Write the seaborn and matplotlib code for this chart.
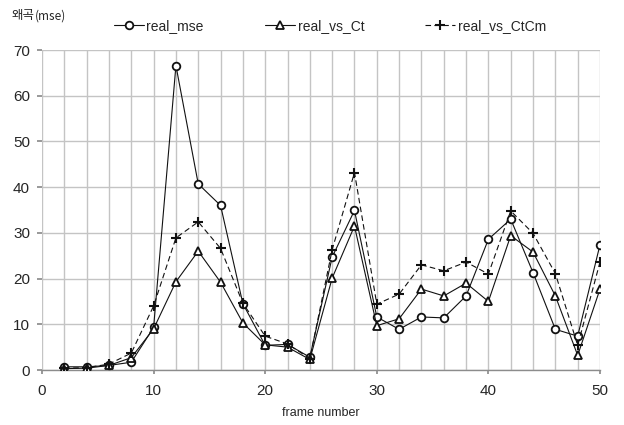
import matplotlib
matplotlib.use("Agg")
import matplotlib.pyplot as plt
import seaborn as sns
import pandas as pd

frames = list(range(2, 51, 2))
real_mse = [0.7, 0.7, 1.0, 1.7, 9.3, 66.6, 40.7, 36.0, 14.5, 5.4, 5.6, 2.8, 24.7, 34.9,
            11.6, 8.9, 11.6, 11.4, 16.2, 28.6, 33.0, 21.3, 8.9, 7.4, 27.4]
real_vs_Ct = [0.3, 0.4, 1.0, 2.7, 9.0, 19.3, 26.0, 19.2, 10.3, 5.5, 5.0, 2.3, 20.1, 31.5,
              9.7, 11.2, 17.7, 16.2, 19.0, 15.0, 29.4, 25.8, 16.2, 3.2, 17.7]
real_vs_CtCm = [0.4, 0.5, 1.3, 3.7, 14.0, 28.9, 32.4, 26.6, 14.6, 7.4, 5.7, 2.5, 26.3, 43.2,
                14.4, 16.6, 23.0, 21.7, 23.6, 21.0, 34.8, 29.9, 21.1, 5.4, 23.6]
series_names = ["real_mse", "real_vs_Ct", "real_vs_CtCm"]

df = pd.DataFrame({"frame": frames, "real_mse": real_mse,
                   "real_vs_Ct": real_vs_Ct, "real_vs_CtCm": real_vs_CtCm})

sns.set_theme(style="white")
plt.rcParams["font.family"] = ["Liberation Sans", "Noto Sans CJK KR", "DejaVu Sans"]

fig = plt.figure(figsize=(6.24, 4.25), dpi=100)
ax = fig.add_axes([42/624, 1 - 370/425, (600-42)/624, (370-50)/425])

styles = {
    "real_mse": dict(marker="o", linestyle="-", markersize=5.5, markerfacecolor="white"),
    "real_vs_Ct": dict(marker="^", linestyle="-", markersize=5.5, markerfacecolor="white"),
    "real_vs_CtCm": dict(marker="+", linestyle=(0, (5, 3)), markersize=6.5, markeredgewidth=1.5),
}
for name in series_names:
    st = styles[name]
    sns.lineplot(data=df, x="frame", y=name, ax=ax, color="#111111", linewidth=0.8,
                 marker=st["marker"], linestyle=st["linestyle"], markersize=st["markersize"],
                 markeredgecolor="#111111", markeredgewidth=st.get("markeredgewidth", 1.3),
                 markerfacecolor=st.get("markerfacecolor", "#111111"), label=name, zorder=3)

ax.set_xlim(0, 50)
ax.set_ylim(0, 70)
ax.set_xticks(range(0, 51, 10))
ax.set_xticks(range(0, 51, 2), minor=True)
ax.set_yticks(range(0, 71, 10))
ax.grid(True, which="both", axis="x", color="#c4c4c4", linewidth=1)
ax.grid(True, which="major", axis="y", color="#c4c4c4", linewidth=1)
for s in ["top", "right", "left"]:
    ax.spines[s].set_visible(False)
ax.spines["bottom"].set_color("#8c8c8c")
ax.spines["bottom"].set_linewidth(1)
ax.tick_params(axis="x", which="major", bottom=True, length=3, color="#8c8c8c", labelsize=11, pad=7)
ax.tick_params(axis="x", which="minor", bottom=False)
ax.tick_params(axis="y", left=True, length=3.6, color="#8c8c8c", labelsize=11, pad=5)
ax.set_xlabel("")
ax.set_ylabel("")
ax.set_axisbelow(True)

handles, labels = ax.get_legend_handles_labels()
if ax.get_legend():
    ax.get_legend().remove()
fig.legend(handles, labels, loc="center", bbox_to_anchor=(330/624, 1 - 26/425), ncol=3,
           frameon=False, fontsize=10, handlelength=2.15, handletextpad=0.2, columnspacing=4.4,
           borderpad=0, borderaxespad=0)

fig.text(12/624, 1 - 16/425, "왜곡", fontsize=9, va="center", ha="left",
         family=["Noto Sans CJK KR", "DejaVu Sans"])
fig.text(35/624, 1 - 16/425, "(mse)", fontsize=8.5, va="center", ha="left",
         family=["Noto Sans CJK KR", "DejaVu Sans"])
fig.text(321/624, 1 - 413/425, "frame number", fontsize=9, va="center", ha="center")

fig.savefig("out.png", dpi=100)
